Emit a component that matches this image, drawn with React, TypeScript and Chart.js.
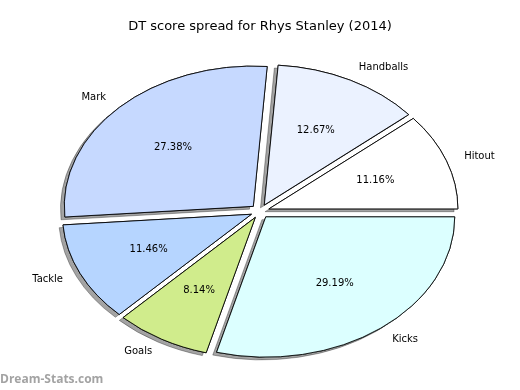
import React, { useEffect, useRef } from "react";
import { Chart, registerables } from "chart.js";

Chart.register(...registerables);

// Data (drawn clockwise from east, so listed in reverse of the reference's counter-clockwise order)
const categories = ["Kicks", "Goals", "Tackle", "Mark", "Handballs", "Hitout"];
const values = [29.19, 8.14, 11.46, 27.38, 12.67, 11.16];
const sliceColors = ["#dcffff", "#d0ec8c", "#b6d5ff", "#c6d9ff", "#ebf2ff", "#ffffff"];
const titleText = "DT score spread for Rhys Stanley (2014)";
const watermark = "Dream-Stats.com";

// Geometry / style
const CX = 260;
const CY = 211.3;
const RADIUS = 189;
const K = 0.742; // vertical squash of the pie
const EXPLODE = 0.05;
const LABEL_DIST = 1.1;
const PCT_DIST = 0.6;
const FONT = "'DejaVu Sans', sans-serif";

const ellipsePie = {
  id: "ellipsePie",
  beforeDatasetsDraw(chart: any) {
    const ctx = chart.ctx as CanvasRenderingContext2D;
    const arcs = chart.getDatasetMeta(0).data as any[];
    for (let pass = 0; pass < 2; pass++) {
      arcs.forEach((arc) => {
        const mid = (arc.startAngle + arc.endAngle) / 2;
        ctx.save();
        if (pass === 0) {
          ctx.shadowColor = "rgba(0,0,0,0.36)";
          ctx.shadowOffsetX = -3.8;
          ctx.shadowOffsetY = 2.8;
          ctx.shadowBlur = 0;
        }
        ctx.translate(CX, CY);
        ctx.scale(1, K);
        ctx.translate(
          EXPLODE * arc.outerRadius * Math.cos(mid),
          EXPLODE * arc.outerRadius * Math.sin(mid)
        );
        ctx.translate(-arc.x, -arc.y);
        arc.draw(ctx);
        ctx.restore();
      });
    }
    return false;
  },
  afterDraw(chart: any) {
    const ctx = chart.ctx as CanvasRenderingContext2D;
    const arcs = chart.getDatasetMeta(0).data as any[];
    const total = values.reduce((a, b) => a + b, 0);
    ctx.save();
    ctx.fillStyle = "#000";
    ctx.font = `10px ${FONT}`;
    ctx.textBaseline = "middle";
    arcs.forEach((arc, i) => {
      const mid = (arc.startAngle + arc.endAngle) / 2;
      const R = arc.outerRadius;
      const c = Math.cos(mid);
      const s = Math.sin(mid);
      // outer label
      const lx = CX + R * (EXPLODE + LABEL_DIST) * c;
      const ly = CY + K * R * (EXPLODE + LABEL_DIST) * s;
      ctx.textAlign = c > 0 ? "left" : "right";
      ctx.fillText(categories[i], lx, ly);
      // percentage
      const px = CX + R * (EXPLODE + PCT_DIST) * c;
      const py = CY + K * R * (EXPLODE + PCT_DIST) * s;
      ctx.textAlign = "center";
      ctx.fillText(((values[i] / total) * 100).toFixed(2) + "%", px, py);
    });
    // watermark
    ctx.font = `bold 12px 'Open Sans', sans-serif`;
    ctx.fillStyle = "#a3a3a3";
    ctx.textAlign = "left";
    ctx.fillText(watermark, 0, 380);
    ctx.restore();
  },
};

export default function App() {
  const ref = useRef<HTMLCanvasElement>(null);
  useEffect(() => {
    if (!ref.current) return;
    const chart = new Chart(ref.current, {
      type: "pie",
      data: {
        labels: categories,
        datasets: [
          {
            data: values,
            backgroundColor: sliceColors,
            borderColor: "#000",
            borderWidth: 1,
            borderJoinStyle: "miter",
            radius: RADIUS,
          } as any,
        ],
      },
      options: {
        responsive: false,
        animation: false,
        devicePixelRatio: 1,
        rotation: 90,
        events: [],
        layout: { padding: 0 },
        plugins: {
          legend: { display: false },
          tooltip: { enabled: false },
          title: {
            display: true,
            text: titleText,
            color: "#000",
            font: { family: FONT, size: 13, weight: "normal", lineHeight: 1.2 },
            padding: { top: 19, bottom: 0 },
          },
        },
      } as any,
      plugins: [ellipsePie],
    });
    return () => chart.destroy();
  }, []);
  return (
    <div style={{ position: "fixed", left: 0, top: 0, width: 520, height: 390, background: "#fff" }}>
      <canvas ref={ref} width={520} height={390} />
    </div>
  );
}
